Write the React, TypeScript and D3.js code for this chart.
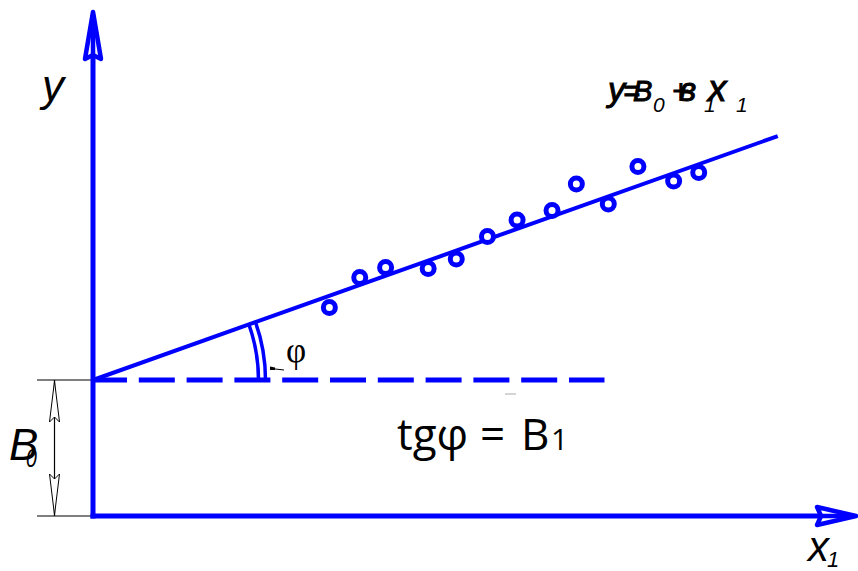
import React from "react";
import * as d3 from "d3";

// Observed points (x₁, y)
const pointX = [31.1, 35.1, 38.5, 44.1, 47.8, 51.9, 55.8, 60.4, 63.6, 67.8, 71.7, 76.4, 79.7];
const pointY = [41.7, 47.7, 49.7, 49.5, 51.4, 55.9, 59.2, 61.1, 66.4, 62.4, 69.9, 67.0, 68.7];

// Regression line y = B0 + B1·x1
const B0 = 27.2;
const B1 = 0.5414;
const fitXEnd = 90.1;
const dashXEnd = 67.3;

// Axis extents (data units)
const xAxisMax = 100.4;
const yAxisMax = 100.8;

const W = 858;
const H = 571;
const BLUE = "#0000ff";

export default function App() {
  const x = d3.scaleLinear().domain([0, 100]).range([93, 853]);
  const y = d3.scaleLinear().domain([0, 100]).range([516, 16]);

  const x0 = x(0);
  const y0 = y(0);
  const yB0 = y(B0);

  const fitLine = d3
    .line<number>()
    .x((d) => x(d))
    .y((d) => y(B0 + B1 * d));

  // Angle marker: arcs between the dashed baseline and the fitted line
  const angle = Math.atan2(yB0 - y(B0 + B1 * fitXEnd), x(fitXEnd) - x0);
  const arcPath = (r: number) => {
    const ex = x0 + r * Math.cos(angle);
    const ey = yB0 - r * Math.sin(angle);
    return `M${x0 + r},${yB0} A${r},${r} 0 0 0 ${ex},${ey}`;
  };

  const yTip = y(yAxisMax);
  const xTip = x(xAxisMax);

  // Dimension arrowhead for B0 (open, notched)
  const dimX = 54.5;
  const dimArrow = (tipY: number, dir: number) => {
    const baseY = tipY + dir * 41;
    const notchY = tipY + dir * 36;
    return `M${dimX},${tipY} L${dimX - 5},${baseY} L${dimX},${notchY} L${dimX + 5},${baseY} Z`;
  };

  const italic = { fontFamily: "'Liberation Sans', Arial, sans-serif", fontStyle: "italic" as const };

  return (
    <svg width={W} height={H} style={{ position: "absolute", left: 0, top: 0, background: "#fff" }}>
      <rect width={W} height={H} fill="#fff" />

      {/* B0 dimension */}
      <g stroke="#000" strokeWidth={1.2}>
        <line x1={37} y1={yB0} x2={x0} y2={yB0} />
        <line x1={37} y1={y0} x2={x0} y2={y0} />
        <line x1={dimX} y1={yB0} x2={dimX} y2={y0} />
      </g>
      <g stroke="#000" strokeWidth={1} fill="#fff">
        <path d={dimArrow(yB0 + 1, 1)} />
        <path d={dimArrow(y0 - 1, -1)} />
      </g>

      {/* Dashed baseline at y = B0 */}
      <line
        x1={x(0) - 2}
        y1={yB0}
        x2={x(dashXEnd)}
        y2={yB0}
        stroke={BLUE}
        strokeWidth={5}
        strokeDasharray="36 11.8"
      />

      {/* Fitted line */}
      <path d={fitLine([0, fitXEnd]) ?? ""} stroke={BLUE} strokeWidth={4} fill="none" />

      {/* Angle φ */}
      <path d={arcPath(165.5)} stroke={BLUE} strokeWidth={3.5} fill="none" />
      <path d={arcPath(172.5)} stroke={BLUE} strokeWidth={3.5} fill="none" />
      <line x1={271} y1={368.5} x2={284} y2={370} stroke="#000" strokeWidth={1} />
      <path d="M270,366.5 L275,367.5 L275,370 L270,370 Z" fill="#000" />
      <text x={286} y={362} fontFamily="'Liberation Serif', 'Times New Roman', serif" fontSize={35} fill="#000">
        φ
      </text>

      {/* Axes */}
      <line x1={x0} y1={y0 + 2.5} x2={x0} y2={yTip + 44} stroke={BLUE} strokeWidth={5} />
      <line x1={x0 - 2.5} y1={y0} x2={xTip - 36} y2={y0} stroke={BLUE} strokeWidth={5} />
      <g stroke={BLUE} strokeWidth={4.5} fill="none" strokeLinejoin="round" strokeLinecap="round">
        <path d={`M${x0 - 8},${yTip + 47} L${x0},${yTip} L${x0 + 8},${yTip + 47} L${x0},${yTip + 43} Z`} />
        <line x1={x0} y1={yTip + 43} x2={x0} y2={yTip + 3} />
        <path d={`M${xTip - 39},${y0 - 9} L${xTip},${y0} L${xTip - 39},${y0 + 9} L${xTip - 35},${y0} Z`} />
        <line x1={xTip - 35} y1={y0} x2={xTip - 3} y2={y0} />
      </g>

      {/* Data points */}
      {pointX.map((px, i) => (
        <circle key={i} cx={x(px)} cy={y(pointY[i])} r={6} fill="#fff" stroke={BLUE} strokeWidth={5} />
      ))}

      {/* Axis labels */}
      <text x={42} y={101} fontSize={44} fill="#000" {...italic}>
        y
      </text>
      <text x={808} y={561} fontSize={42} fill="#000" {...italic}>
        x
      </text>
      <text x={827} y={567} fontSize={22} fill="#000" {...italic}>
        1
      </text>

      {/* B0 label */}
      <text x={9} y={460} fontSize={44} fill="#000" {...italic}>
        B
      </text>
      <text x={26} y={467} fontSize={26} fill="#000" {...italic} transform="translate(26,0) scale(0.75,1) translate(-26,0)">
        0
      </text>

      {/* Regression equation */}
      <g fill="#000" {...italic}>
        <g stroke="#000" strokeWidth={1}>
          <text x={608} y={101} fontSize={34}>y</text>
          <text x={623} y={101} fontSize={29}>=</text>
          <text x={633} y={101} fontSize={29}>B</text>
          <text x={672} y={101} fontSize={29}>+</text>
          <text x={679} y={101} fontSize={33}>в</text>
          <text x={708} y={101} fontSize={37}>x</text>
        </g>
        <text x={653} y={112} fontSize={21}>0</text>
        <text x={704} y={112} fontSize={21}>1</text>
        <text x={736} y={112} fontSize={21}>1</text>
      </g>

      {/* tgφ = B1 */}
      <line x1={505} y1={394} x2={516} y2={394} stroke="#aaa" strokeWidth={1} />
      <g fontFamily="'Open Sans', 'Noto Sans', sans-serif" fill="#000">
        <text x={397} y={450} fontSize={44}>tgφ</text>
        <text x={480} y={450} fontSize={44}>=</text>
        <text x={521} y={450} fontSize={44}>B</text>
        <text x={551} y={450} fontSize={30}>1</text>
      </g>
    </svg>
  );
}
